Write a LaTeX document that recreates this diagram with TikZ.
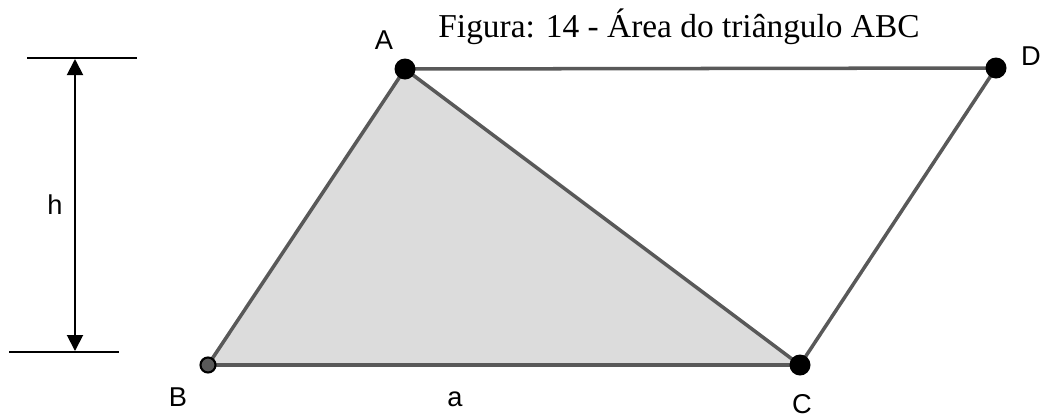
\documentclass[tikz,border=0pt]{standalone}
\usepackage{fontspec}
\setmainfont{Liberation Serif}
\newfontfamily\labelfont{Liberation Sans}
\usetikzlibrary{arrows.meta}
\definecolor{edgegray}{HTML}{595959}
\definecolor{fillgray}{HTML}{DCDCDC}
\tikzset{
  side/.style={draw=edgegray, line width=2pt},
  vertex/.style={circle, fill=black, inner sep=0pt, minimum size=0.42cm},
  lbl/.style={font=\labelfont\fontsize{15.5}{17}\selectfont, inner sep=0pt},
  guide/.style={draw=black, line width=1.1pt},
}
\begin{document}
\begin{tikzpicture}[x=0.02cm, y=-0.02cm]
\useasboundingbox (0,0) rectangle (1042,417);
% points
\coordinate (A) at (405,69);
\coordinate (D) at (996,68);
\coordinate (B) at (208,365);
\coordinate (C) at (800,365);
% triangle fill
\fill[fillgray] (A) -- (B) -- (C) -- cycle;
% sides
\draw[side] (A) -- (D);
\draw[side] (D) -- (C);
\draw[side] (A) -- (B);
\draw[side] (B) -- (C);
\draw[side] (A) -- (C);
% vertices
\node[vertex] (vA) at (A) {};
\node[vertex] (vD) at (D) {};
\node[vertex] (vC) at (C) {};
\node[circle, fill=edgegray, draw=black, line width=1.2pt, inner sep=0pt, minimum size=0.3cm] (vB) at (B) {};
% labels
\node[lbl] (lA) at (384,40) {A};
\node[lbl] (lD) at (1031,56) {D};
\node[lbl] (lB) at (178,397) {B};
\node[lbl] (lC) at (802,404) {C};
\node[lbl] (la) at (455,399) {a};
\node[lbl] (lh) at (55,205) {h};
% height marker
\coordinate (t1) at (27,58);
\coordinate (t2) at (137,58);
\coordinate (b1) at (9,352);
\coordinate (b2) at (119,352);
\draw[guide] (t1) -- (t2);
\draw[guide] (b1) -- (b2);
\coordinate (ht) at (75,59);
\coordinate (hb) at (75,351);
\draw[black, line width=1.1pt, {Triangle[length=0.32cm,width=0.32cm]}-{Triangle[length=0.32cm,width=0.32cm]}] (ht) -- (hb);
% title
\node[font=\fontsize{19}{21}\selectfont, inner sep=0pt, anchor=base] (title) at (679,37) {Figura: 14 - Área do triângulo ABC};
\end{tikzpicture}
\end{document}
